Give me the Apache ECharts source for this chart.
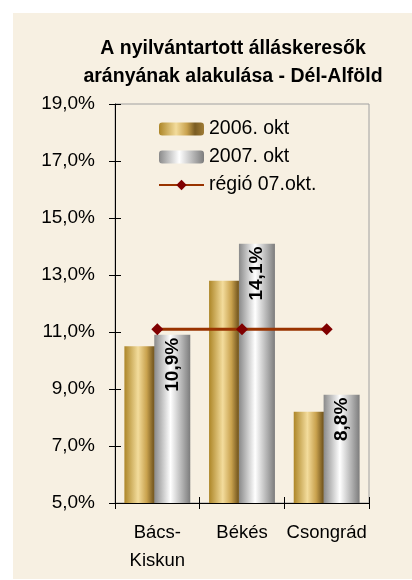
<!DOCTYPE html>
<html>
<head>
<meta charset="utf-8">
<script src="https://cdn.jsdelivr.net/npm/echarts@6/dist/echarts.min.js"></script>
<style>
  body { margin: 0; background: #ffffff; }
  #bg { position: absolute; left: 13px; top: 13px; width: 399px; height: 566px; background: #f7f0e2; }
  #chart { position: absolute; left: 0; top: 0; width: 412px; height: 580px; }
</style>
</head>
<body>
<div id="bg"></div>
<div id="chart"></div>
<script>
// adatok
const categories = ['Bács-\nKiskun', 'Békés', 'Csongrád']
const okt2006 = [10.5, 12.8, 8.2]
const okt2007 = [10.9, 14.1, 8.8]
const regio07 = [11.1, 11.1, 11.1]
const seriesNames = ['2006. okt', '2007. okt', 'régió 07.okt.']

const fmt = v => v.toFixed(1).replace('.', ',') + '%'

const gold = new echarts.graphic.LinearGradient(0, 0, 1, 0, [
  { offset: 0, color: '#ad8628' },
  { offset: 0.38, color: '#f3dc9c' },
  { offset: 0.62, color: '#c9a24e' },
  { offset: 0.8, color: '#7a5c22' },
  { offset: 1, color: '#a07c36' }
])
const silver = new echarts.graphic.LinearGradient(0, 0, 1, 0, [
  { offset: 0, color: '#8a8a8a' },
  { offset: 0.45, color: '#ffffff' },
  { offset: 1, color: '#7c7c7c' }
])

let myChart = echarts.init(document.getElementById('chart'))
let option = {
  backgroundColor: 'transparent',
  textStyle: { fontFamily: 'Liberation Sans, Arial, sans-serif' },
  title: {
    text: 'A nyilvántartott álláskeresők\narányának alakulása - Dél-Alföld',
    left: 228,
    top: 30,
    textAlign: 'center',
    textStyle: { fontSize: 19.5, fontWeight: 'bold', color: '#000', lineHeight: 28 }
  },
  legend: {
    orient: 'vertical',
    left: 153,
    top: 114,
    itemWidth: 45,
    itemHeight: 13,
    itemGap: 8,
    data: seriesNames,
    textStyle: { fontSize: 19.5, color: '#000' }
  },
  grid: {
    left: 115, right: 43, top: 104, bottom: 77,
    show: true, borderColor: '#a0a0a0', borderWidth: 1
  },
  xAxis: [
    {
      type: 'category',
      data: categories,
      axisLine: { lineStyle: { color: '#000', width: 1 } },
      axisTick: { show: true, length: 6, lineStyle: { color: '#000' } },
      axisLabel: { fontSize: 18.5, color: '#000', margin: 16, lineHeight: 28, interval: 0 }
    },
    {
      type: 'category',
      position: 'bottom',
      data: categories,
      axisLine: { show: false },
      axisTick: { show: true, inside: true, length: 6, lineStyle: { color: '#000' } },
      axisLabel: { show: false }
    }
  ],
  yAxis: [
    {
      type: 'value',
      min: 5, max: 19, interval: 2,
      splitLine: { show: false },
      axisLine: { show: true, lineStyle: { color: '#000', width: 1 } },
      axisTick: { show: true, length: 6, lineStyle: { color: '#000' } },
      axisLabel: { fontSize: 19, color: '#000', margin: 20, formatter: fmt }
    },
    {
      type: 'value',
      position: 'left',
      min: 5, max: 19, interval: 2,
      splitLine: { show: false },
      axisLine: { show: false },
      axisTick: { show: true, inside: true, length: 6, lineStyle: { color: '#000' } },
      axisLabel: { show: false }
    }
  ],
  series: [
    {
      name: seriesNames[0],
      type: 'bar',
      data: okt2006,
      barWidth: 36,
      barGap: '-17%',
      itemStyle: { color: gold }
    },
    {
      name: seriesNames[1],
      type: 'bar',
      data: okt2007,
      barWidth: 36,
      itemStyle: { color: silver },
      label: {
        show: true,
        position: 'insideTop',
        rotate: 90,
        align: 'right',
        verticalAlign: 'middle',
        distance: 3,
        fontSize: 19,
        fontWeight: 'bold',
        color: '#000',
        formatter: p => fmt(p.value)
      }
    },
    {
      name: seriesNames[2],
      type: 'line',
      data: regio07,
      symbol: 'diamond',
      symbolSize: 12,
      lineStyle: { color: '#993300', width: 3 },
      itemStyle: { color: '#800000' },
      z: 5
    }
  ]
}
myChart.setOption(option)
</script>
</body>
</html>
